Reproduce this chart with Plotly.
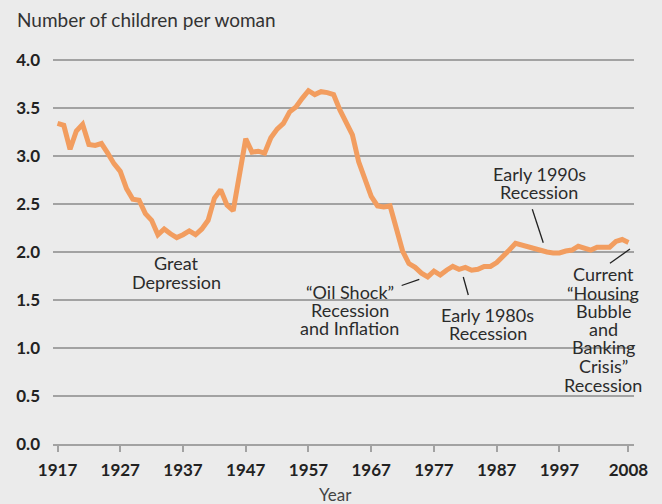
import plotly.graph_objects as go

years = list(range(1917, 2009))
children_per_woman = [
    3.34, 3.32, 3.07, 3.26, 3.33, 3.12, 3.11, 3.13, 3.03, 2.92,
    2.84, 2.66, 2.55, 2.54, 2.40, 2.33, 2.18, 2.24, 2.19, 2.15,
    2.18, 2.22, 2.18, 2.24, 2.33, 2.56, 2.65, 2.49, 2.43, 2.84,
    3.18, 3.04, 3.05, 3.03, 3.19, 3.28, 3.34, 3.46, 3.51, 3.60,
    3.68, 3.64, 3.67, 3.66, 3.64, 3.48, 3.34, 3.22, 2.94, 2.75,
    2.58, 2.48, 2.47, 2.48, 2.26, 2.01, 1.88, 1.84, 1.78, 1.74,
    1.80, 1.76, 1.81, 1.85, 1.82, 1.84, 1.81, 1.82, 1.85, 1.85,
    1.89, 1.95, 2.02, 2.09, 2.07, 2.06, 2.04, 2.02, 2.00, 1.99,
    1.99, 2.01, 2.02, 2.06, 2.04, 2.02, 2.05, 2.05, 2.05, 2.11,
    2.13, 2.10,
]
x_tick_vals = [1917, 1927, 1937, 1947, 1957, 1967, 1977, 1987, 1997, 2008]
x_tick_text = [str(v) for v in x_tick_vals]
y_tick_vals = [0, 0.5, 1.0, 1.5, 2.0, 2.5, 3.0, 3.5, 4.0]
y_tick_text = ["0.0", "0.5", "1.0", "1.5", "2.0", "2.5", "3.0", "3.5", "4.0"]

# annotation labels: (center year, list of (line text, value))
labels = [
    (1935.97, [("Great", 1.885), ("Depression", 1.6875)]),
    (1993.74, [("Early 1990s", 2.8125), ("Recession", 2.625)]),
    (1963.54, [("\u201cOil Shock\u201d", 1.583), ("Recession", 1.396), ("and Inflation", 1.208)]),
    (1985.53, [("Early 1980s", 1.344), ("Recession", 1.159)]),
    (2003.94, [("Current", 1.771), ("\u201cHousing", 1.573), ("Bubble", 1.385), ("and", 1.198),
               ("Banking", 1.010), ("Crisis\u201d", 0.8125), ("Recession", 0.615)]),
]
connectors = [
    (1992.67, 2.445, 1994.42, 2.097),
    (1971.85, 1.651, 1974.66, 1.716),
    (1981.67, 1.740, 1982.47, 1.552),
    (2008.24, 2.031, 2005.05, 1.882),
]

BG = "#EBEBEB"
GRID = "#A2A2A2"
ORANGE = "#F29D5F"
FONT = "Lato"

fig = go.Figure()
fig.add_trace(go.Scatter(
    x=years, y=children_per_woman, mode="lines",
    line=dict(color=ORANGE, width=5, shape="linear"),
    hoverinfo="skip", showlegend=False,
))

annotations = []
for xc, lines in labels:
    for txt, yv in lines:
        annotations.append(dict(
            x=xc, y=yv, xref="x", yref="y", text=txt, showarrow=False,
            xanchor="center", yanchor="middle",
            font=dict(family=FONT, size=18, color="#2B2B2B"),
        ))
annotations.append(dict(
    x=-0.0654, y=1.0928, xref="paper", yref="paper",
    text="Number of children per woman", showarrow=False,
    xanchor="left", yanchor="middle",
    font=dict(family=FONT, size=19, color="#333333"),
))
annotations.append(dict(
    x=0.4854, y=-0.1314, xref="paper", yref="paper",
    text="Year", showarrow=False, xanchor="center", yanchor="middle",
    font=dict(family=FONT, size=17, color="#444444"),
))

shapes = [
    dict(type="line", xref="x", yref="y", x0=a, y0=b, x1=c, y1=d,
         line=dict(color="#222222", width=1.3))
    for a, b, c, d in connectors
]

fig.update_layout(
    width=662, height=504,
    margin=dict(l=53, r=28, t=56, b=60),
    paper_bgcolor=BG, plot_bgcolor=BG,
    annotations=annotations, shapes=shapes,
    xaxis=dict(
        range=[1916.28, 2008.88], tickmode="array",
        tickvals=x_tick_vals, ticktext=x_tick_text,
        showgrid=False, zeroline=False,
        showline=True, linecolor=GRID, linewidth=2,
        ticks="outside", ticklen=6, tickwidth=1.5, tickcolor=GRID,
        tickfont=dict(family=FONT, size=17, color="#222222", weight="bold"),
        ticklabelstandoff=4,
    ),
    yaxis=dict(
        range=[0, 4.0417], tickmode="array",
        tickvals=y_tick_vals, ticktext=y_tick_text,
        showgrid=True, gridcolor=GRID, gridwidth=2,
        zeroline=False, showline=False, ticks="",
        tickfont=dict(family=FONT, size=17, color="#222222", weight="bold"),
        ticklabelstandoff=12,
    ),
)

fig.write_html(
    "out.html",
    config={"displayModeBar": False},
    post_script="document.body.style.margin='0';document.body.style.background='#EBEBEB';document.body.style.overflow='hidden';",
)
